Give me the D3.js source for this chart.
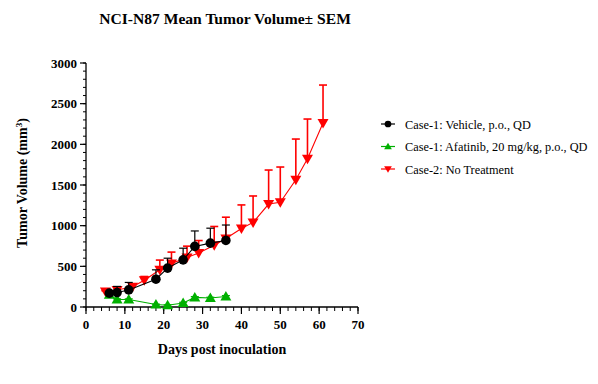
<!DOCTYPE html>
<html><head><meta charset="utf-8">
<script src="https://cdn.jsdelivr.net/npm/d3@7"></script>
<style>body{margin:0;background:#fff;} svg{display:block;}</style>
</head><body>
<svg id="c" width="598" height="384"></svg>
<script>
const vehicleDays = [6, 8, 11, 18, 21, 25, 28, 32, 36];
const vehicleMean = [170, 178, 210, 342, 478, 580, 745, 785, 818];
const vehicleSem  = [15, 75, 92, 115, 122, 143, 190, 184, 190];

const afatinibDays = [6, 8, 11, 18, 21, 25, 28, 32, 36];
const afatinibMean = [150, 92, 92, 30, 22, 50, 118, 110, 130];
const afatinibSem  = [10, 8, 8, 5, 5, 8, 10, 10, 10];

const noTxDays = [5, 8, 12, 15, 19, 22, 26, 29, 33, 36, 40, 43, 47, 50, 54, 57, 61];
const noTxMean = [190, 210, 248, 330, 457, 535, 608, 665, 758, 842, 965, 1040, 1266, 1287, 1565, 1824, 2262];
const noTxSem  = [10, 30, 30, 45, 120, 140, 140, 152, 232, 262, 290, 325, 418, 434, 500, 487, 467];

const xTicks = [0, 10, 20, 30, 40, 50, 60, 70];
const yTicks = [0, 500, 1000, 1500, 2000, 2500, 3000];

const titleText = "NCI-N87 Mean Tumor Volume\u00b1 SEM";
const xLabel = "Days post inoculation";
const legendLabels = ["Case-1: Vehicle, p.o., QD", "Case-1: Afatinib, 20 mg/kg, p.o., QD", "Case-2: No Treatment"];

const svg = d3.select("#c");
const font = "'Liberation Serif','Times New Roman',serif";
const x = d3.scaleLinear().domain([0, 70]).range([86, 358]);
const y = d3.scaleLinear().domain([0, 3000]).range([307, 63]);

// axes
const xMinor = d3.range(0, 71, 2);
const yMinor = d3.range(0, 3001, 100);
const gx = svg.append("g").attr("transform", "translate(0,307)");
gx.append("line").attr("x1", x(0)).attr("x2", x(70)).attr("stroke", "#000").attr("stroke-width", 1.3);
gx.selectAll(".mn").data(xMinor).join("line").attr("x1", d => x(d)).attr("x2", d => x(d)).attr("y1", 0).attr("y2", 4).attr("stroke", "#000");
gx.selectAll(".mj").data(xTicks).join("line").attr("x1", d => x(d)).attr("x2", d => x(d)).attr("y1", 0).attr("y2", 7).attr("stroke", "#000").attr("stroke-width", 1.2);
gx.selectAll("text").data(xTicks).join("text").attr("x", d => x(d)).attr("y", 22)
  .attr("text-anchor", "middle").attr("font-family", font).attr("font-weight", "bold").attr("font-size", 13).text(d => d);

const gy = svg.append("g").attr("transform", "translate(86,0)");
gy.append("line").attr("y1", y(0)).attr("y2", y(3000)).attr("stroke", "#000").attr("stroke-width", 1.3);
gy.selectAll(".mn").data(yMinor).join("line").attr("y1", d => y(d)).attr("y2", d => y(d)).attr("x1", 0).attr("x2", -3).attr("stroke", "#000");
gy.selectAll(".mj").data(yTicks).join("line").attr("y1", d => y(d)).attr("y2", d => y(d)).attr("x1", 0).attr("x2", -6).attr("stroke", "#000").attr("stroke-width", 1.2);
gy.selectAll("text").data(yTicks).join("text").attr("x", -9).attr("y", d => y(d) + 4.5)
  .attr("text-anchor", "end").attr("font-family", font).attr("font-weight", "bold").attr("font-size", 13).text(d => d);

// title & labels
svg.append("text").attr("x", 225).attr("y", 24).attr("text-anchor", "middle").attr("font-family", font)
  .attr("font-weight", "bold").attr("font-size", 15.6).text(titleText);
svg.append("text").attr("x", 222).attr("y", 354).attr("text-anchor", "middle").attr("font-family", font)
  .attr("font-weight", "bold").attr("font-size", 14).text(xLabel);
const yl = svg.append("text").attr("transform", "translate(27,183) rotate(-90)").attr("text-anchor", "middle")
  .attr("font-family", font).attr("font-weight", "bold").attr("font-size", 14);
yl.append("tspan").text("Tumor Volume (mm");
yl.append("tspan").attr("font-size", 9).attr("dy", -5).text("3");
yl.append("tspan").attr("dy", 5).text(")");

const series = [
  {days: vehicleDays, mean: vehicleMean, sem: vehicleSem, color: "#000000", shape: "circle", ew: 1.2},
  {days: afatinibDays, mean: afatinibMean, sem: afatinibSem, color: "#00b000", shape: "up", ew: 1.2},
  {days: noTxDays, mean: noTxMean, sem: noTxSem, color: "#ff0000", shape: "down", ew: 1.6}
];

function marker(g, shape, color, cx, cy, k) {
  k = k || 1;
  if (shape === "circle") {
    g.append("circle").attr("cx", cx).attr("cy", cy).attr("r", 4.8 * k).attr("fill", color);
  } else if (shape === "up") {
    g.append("path").attr("d", `M${cx},${cy-5.5*k}L${cx+5.5*k},${cy+4*k}L${cx-5.5*k},${cy+4*k}Z`).attr("fill", color);
  } else {
    g.append("path").attr("d", `M${cx},${cy+5.5*k}L${cx+5.5*k},${cy-4*k}L${cx-5.5*k},${cy-4*k}Z`).attr("fill", color);
  }
}

// draw order: red, green, black on top
[2, 1, 0].forEach(i => {
  const s = series[i];
  const g = svg.append("g");
  const pts = s.days.map((d, j) => [d, s.mean[j], s.sem[j]]);
  g.selectAll(".eb").data(pts).join("line").attr("x1", d => x(d[0])).attr("x2", d => x(d[0]))
    .attr("y1", d => y(d[1])).attr("y2", d => y(d[1] + d[2])).attr("stroke", s.color).attr("stroke-width", s.ew);
  g.selectAll(".cap").data(pts).join("line").attr("x1", d => x(d[0]) - 4).attr("x2", d => x(d[0]) + 4)
    .attr("y1", d => y(d[1] + d[2])).attr("y2", d => y(d[1] + d[2])).attr("stroke", s.color).attr("stroke-width", s.ew);
  g.append("path").datum(pts).attr("d", d3.line().x(d => x(d[0])).y(d => y(d[1])))
    .attr("fill", "none").attr("stroke", s.color).attr("stroke-width", 1.1);
  pts.forEach(d => marker(g, s.shape, s.color, x(d[0]), y(d[1])));
});

// legend
const lg = svg.append("g");
series.forEach((s, i) => {
  const ly = 124 + i * 22.5;
  lg.append("line").attr("x1", 381).attr("x2", 395).attr("y1", ly).attr("y2", ly).attr("stroke", s.color).attr("stroke-width", 1.2);
  marker(lg, s.shape, s.color, 388, ly, 0.7);
  lg.append("text").attr("x", 405).attr("y", ly + 4.5).attr("font-family", font).attr("font-size", 12.3).text(legendLabels[i]);
});
</script>
</body></html>
